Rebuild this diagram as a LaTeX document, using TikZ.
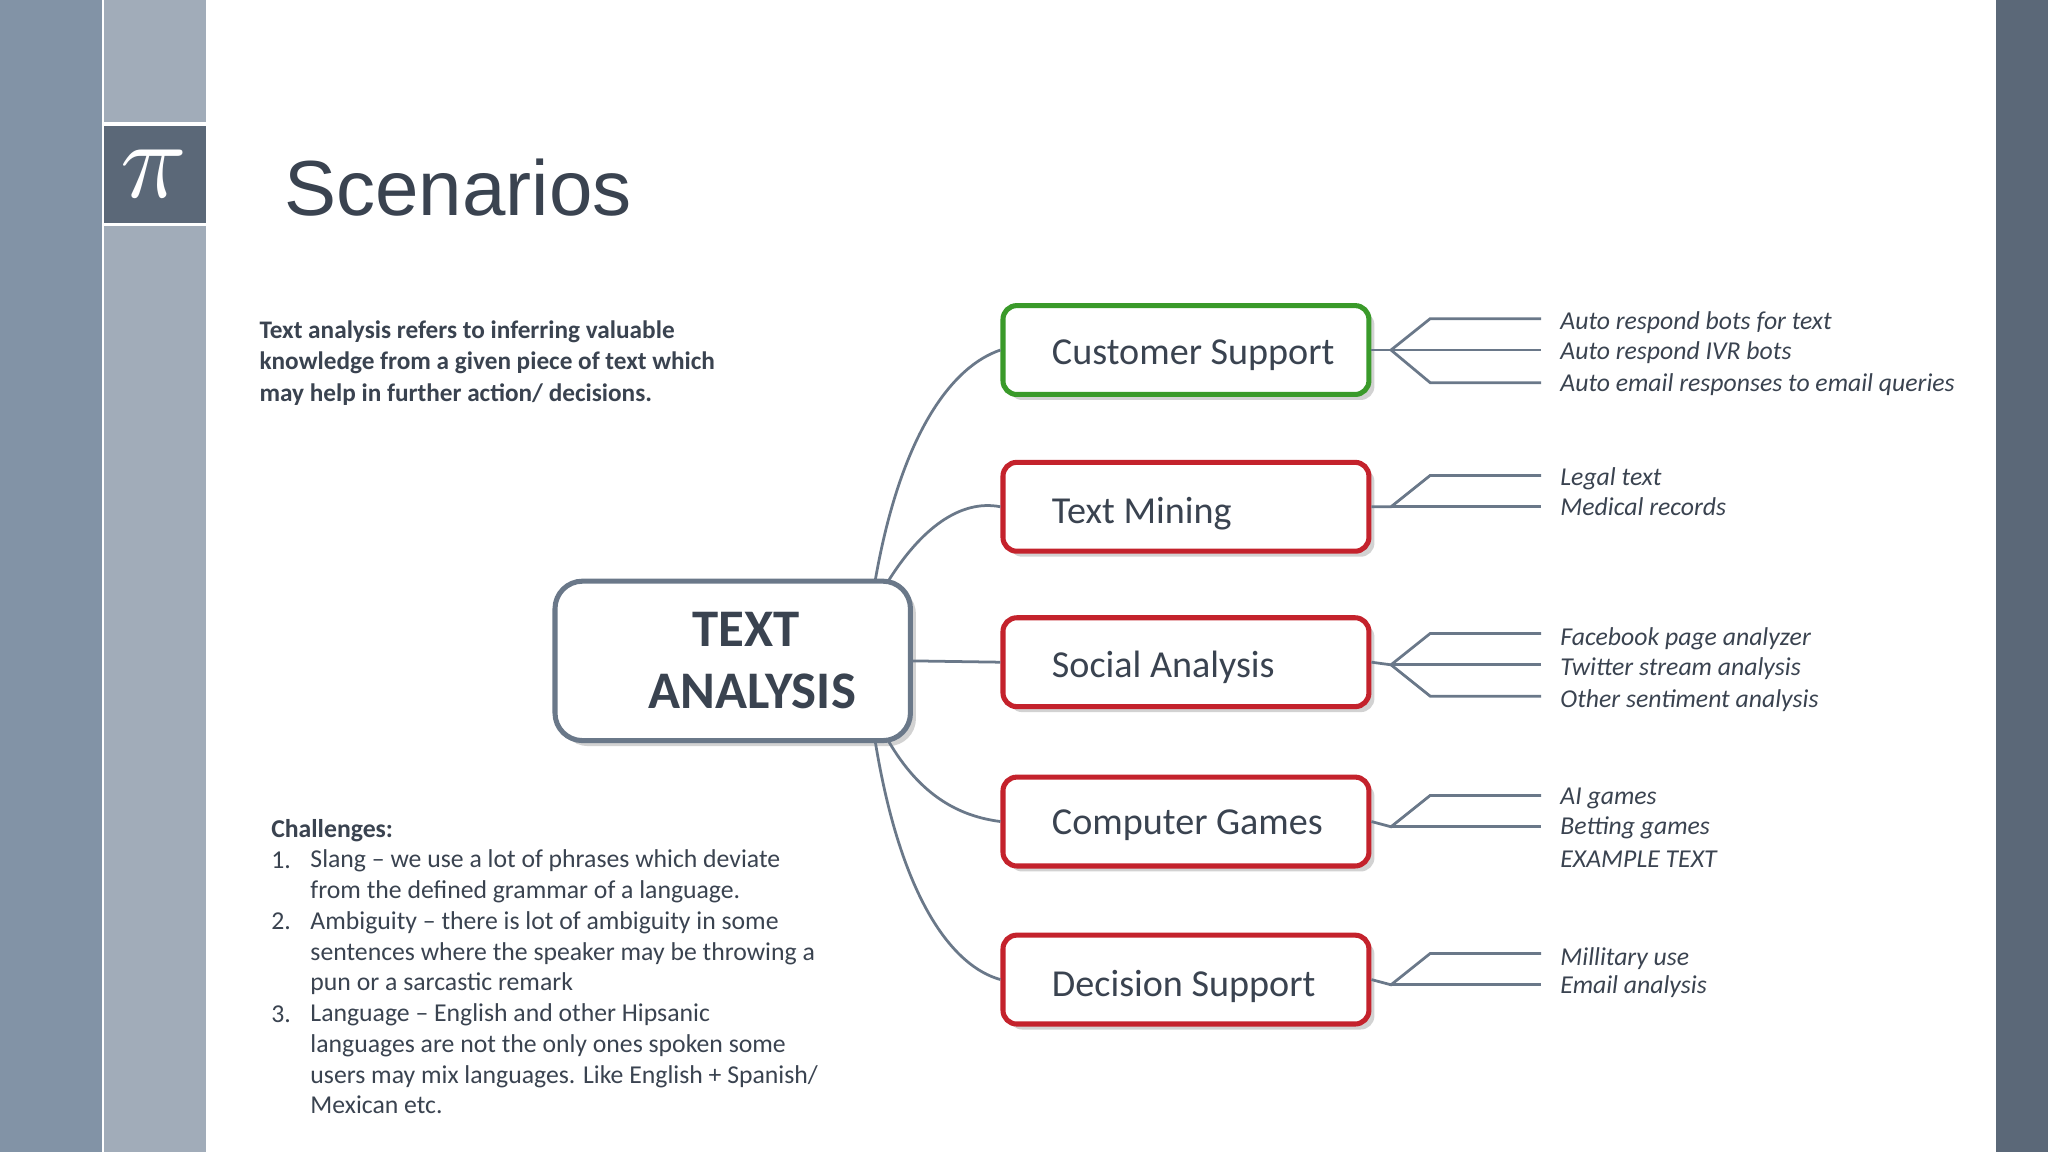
\documentclass[tikz,border=0pt]{standalone}
\usepackage{fontspec}
\setmainfont{Carlito}
\newfontfamily\arialf{Liberation Sans}
\usetikzlibrary{shadows}
\definecolor{stripA}{HTML}{8293A6}
\definecolor{stripB}{HTML}{A1ACB9}
\definecolor{darkslate}{HTML}{5B6878}
\definecolor{conn}{HTML}{6A7889}
\definecolor{txt}{HTML}{3A4350}
\definecolor{gbox}{HTML}{3A9A2A}
\definecolor{rbox}{HTML}{C4222C}
\tikzset{
 catbox/.style={draw=rbox,line width=1.1pt,rounded corners=3pt,fill=white,minimum width=2.8cm,minimum height=0.68cm,
   drop shadow={shadow xshift=1.2pt,shadow yshift=-1.2pt,opacity=0.35,fill=gray}},
 cattext/.style={anchor=west,font=\fontsize{8.3pt}{10pt}\selectfont,text=txt},
 item/.style={anchor=base west,font=\fontsize{5.6pt}{6.8pt}\selectfont\itshape,text=txt,inner sep=0pt},
 link/.style={draw=conn,line width=0.6pt},
 chl/.style={anchor=base west,inner sep=0pt,text=txt,font=\fontsize{5.6pt}{6.7pt}\selectfont,align=left},
}
\begin{document}
\begin{tikzpicture}[x=0.01cm,y=-0.01cm]
\useasboundingbox (0,0) rectangle (1568,882);
\fill[white] (0,0) rectangle (1568,882);
\fill[stripA] (0,0) rectangle (78,882);
\fill[stripB] (80,0) rectangle (158,882);
\fill[darkslate] (1528,0) rectangle (1568,882);
\fill[darkslate] (80,95) rectangle (158,172);
\draw[white,line width=0.7pt] (80,95) -- (158,95) (80,172) -- (158,172);
\node[text=white,scale=2.4] (pi) at (118,133) {$\pi$};
\node[anchor=base west,inner sep=0pt,text=txt,font=\arialf\fontsize{17pt}{20pt}\selectfont] (title) at (217,165) {Scenarios};

\node[anchor=north west,inner sep=0pt,text=txt,align=left,font=\fontsize{5.5pt}{6.8pt}\selectfont\bfseries] (intro) at (198,245)
{Text analysis refers to inferring valuable\\knowledge from a given piece of text which\\may help in further action/ decisions.};

\node[chl,font=\fontsize{5.6pt}{6.7pt}\selectfont\bfseries] (chal) at (207,641) {Challenges:};
\node[chl] (n1) at (207,665) {1.};
\node[chl] (n2) at (207,712) {2.};
\node[chl] (n3) at (207,783) {3.};
\node[anchor=north west,inner sep=0pt,text=txt,font=\fontsize{5.6pt}{6.7pt}\selectfont,align=left] (l1) at (237,650)
{Slang -- we use a lot of phrases which deviate\\from the defined grammar of a language.\\
Ambiguity -- there is lot of ambiguity in some\\sentences where the speaker may be throwing a\\pun or a sarcastic remark\\
Language -- English and other Hipsanic\\languages are not the only ones spoken some\\users may mix languages. Like English + Spanish/\\Mexican etc.};

\node[draw=conn,line width=1.1pt,rounded corners=6pt,fill=white,minimum width=2.72cm,minimum height=1.22cm,
 drop shadow={shadow xshift=1.2pt,shadow yshift=-1.2pt,opacity=0.35,fill=gray},align=center,text=txt,
 font=\fontsize{11.5pt}{13.5pt}\selectfont\bfseries,text width=2.3cm] (center) at (561,506) {\hspace*{0.2cm}TEXT\\\hspace*{0.3cm}ANALYSIS};

\node[catbox,draw=gbox] (cs) at (908,268) {};
\node[catbox] (tm) at (908,388) {};
\node[catbox] (sa) at (908,507) {};
\node[catbox] (cg) at (908,629) {};
\node[catbox] (ds) at (908,750) {};
\node[cattext] (cst) at (793,272) {Customer Support};
\node[cattext] (tmt) at (793,393) {Text Mining};
\node[cattext] (sat) at (793,511) {Social Analysis};
\node[cattext] (cgt) at (793,632) {Computer Games};
\node[cattext] (dst) at (793,755) {Decision Support};

\coordinate (c1) at (670,445); \coordinate (c2) at (680,445);
\coordinate (c4) at (680,567); \coordinate (c5) at (670,567);
\draw[link] (c1) .. controls (690,330) and (730,280) .. (cs.west);
\draw[link] (c2) .. controls (705,405) and (735,382) .. (tm.west);
\draw[link] (center.east) -- (sa.west);
\draw[link] (c4) .. controls (705,610) and (735,625) .. (cg.west);
\draw[link] (c5) .. controls (690,690) and (730,740) .. (ds.west);

\coordinate (j1) at (1065,268);
\draw[link] (cs.east) -- (j1);
\foreach \y in {244,268,293} \draw[link] (j1) -- (1095,\y) -- (1180,\y);
\draw[link] (tm.east) -- (1065,388) -- (1095,364) -- (1180,364);
\draw[link] (1065,388) -- (1180,388);
\coordinate (j3) at (1065,509);
\draw[link] (sa.east) -- (j3);
\foreach \y in {485,509,533} \draw[link] (j3) -- (1095,\y) -- (1180,\y);
\draw[link] (cg.east) -- (1065,633) -- (1095,609) -- (1180,609);
\draw[link] (1065,633) -- (1180,633);
\draw[link] (ds.east) -- (1065,754) -- (1095,730) -- (1180,730);
\draw[link] (1065,754) -- (1180,754);

\node[item] (i1) at (1194,252) {Auto respond bots for text};
\node[item] (i2) at (1194,275) {Auto respond IVR bots};
\node[item] (i3) at (1194,300) {Auto email responses to email queries};
\node[item] (i4) at (1194,372) {Legal text};
\node[item] (i5) at (1194,395) {Medical records};
\node[item] (i6) at (1194,494) {Facebook page analyzer};
\node[item] (i7) at (1194,517) {Twitter stream analysis};
\node[item] (i8) at (1194,542) {Other sentiment analysis};
\node[item] (i9) at (1194,616) {AI games};
\node[item] (i10) at (1194,639) {Betting games};
\node[item] (i11) at (1194,664) {EXAMPLE TEXT};
\node[item] (i12) at (1194,739) {Millitary use};
\node[item] (i13) at (1194,761) {Email analysis};
\end{tikzpicture}
\end{document}
